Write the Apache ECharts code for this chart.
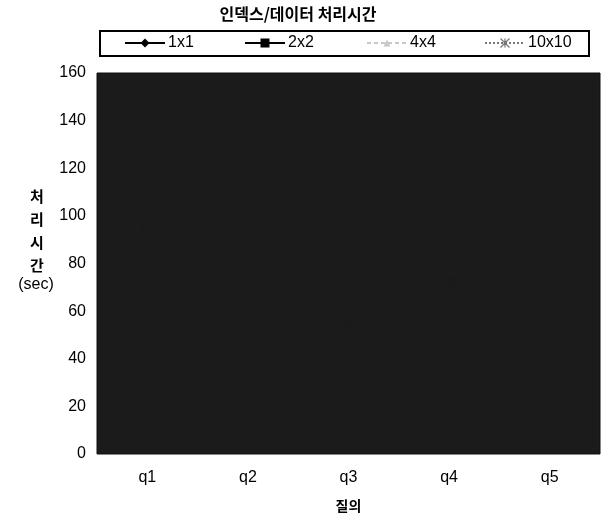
<!DOCTYPE html>
<html><head><meta charset="utf-8">
<script src="https://cdn.jsdelivr.net/npm/echarts@6/dist/echarts.min.js"></script>
<style>html,body{margin:0;padding:0;background:#fff}#c{width:602px;height:518px}</style>
</head><body><div id="c"></div>
<script>
const categories = ['q1', 'q2', 'q3', 'q4', 'q5'];
const s1x1 = [142, 118, 131, 104, 126];
const s2x2 = [96, 81, 88, 72, 90];
const s4x4 = [58, 49, 55, 44, 52];
const s10x10 = [31, 26, 29, 23, 28];
const seriesNames = ['1x1', '2x2', '4x4', '10x10'];
const yTicks = [0, 20, 40, 60, 80, 100, 120, 140, 160];

const FONT = '"Liberation Sans", Arial, sans-serif';
const KFONT = '"Noto Sans CJK KR", sans-serif';
const PLOT_BG = '#1b1b1b';

const legendStyles = [
  {sym: 'diamond', color: '#000', dash: null, size: 9},
  {sym: 'rect', color: '#000', dash: null, size: 9},
  {sym: 'triangle', color: '#c8c8c8', dash: [4, 3], size: 7},
  {sym: 'star', color: '#777', dash: [2, 2], size: 9}
];
const legendLefts = [125, 245, 367, 485];
const dataSets = [s1x1, s2x2, s4x4, s10x10];

function markerShape(st, cx, cy) {
  const s = st.size / 2;
  if (st.sym === 'diamond') return {type: 'polygon', shape: {points: [[cx, cy - s], [cx + s, cy], [cx, cy + s], [cx - s, cy]]}, style: {fill: st.color}};
  if (st.sym === 'rect') return {type: 'rect', shape: {x: cx - s, y: cy - s, width: st.size, height: st.size}, style: {fill: st.color}};
  if (st.sym === 'triangle') return {type: 'polygon', shape: {points: [[cx, cy - s], [cx + s, cy + s], [cx - s, cy + s]]}, style: {fill: st.color}};
  return {type: 'polyline', shape: {points: [[cx - s, cy - s], [cx, cy], [cx + s, cy - s], [cx, cy], [cx - s, cy + s], [cx, cy], [cx + s, cy + s], [cx, cy], [cx, cy - s], [cx, cy + s]]}, style: {stroke: st.color, lineWidth: 1.2, fill: null}};
}

const legendGraphics = [];
legendStyles.forEach((st, i) => {
  const x0 = legendLefts[i], cy = 43;
  legendGraphics.push({type: 'line', shape: {x1: x0, y1: cy, x2: x0 + 40, y2: cy},
    style: {stroke: st.color, lineWidth: 2, lineDash: st.dash}});
  legendGraphics.push(markerShape(st, x0 + 20, cy));
  legendGraphics.push({type: 'text', x: x0 + 43, y: cy, style: {text: seriesNames[i], font: '16px ' + FONT, fill: '#000', verticalAlign: 'middle'}});
});

const chart = echarts.init(document.getElementById('c'), null, {renderer: 'canvas'});
chart.setOption({
  animation: false,
  backgroundColor: '#fff',
  title: {
    text: '인덱스/데이터 처리시간', left: 293, top: 1, textAlign: 'center',
    textStyle: {fontFamily: KFONT, fontSize: 16, fontWeight: 'bold', color: '#000'}
  },
  graphic: [
    {type: 'rect', shape: {x: 100, y: 31, width: 489, height: 25},
     style: {fill: 'none', stroke: '#000', lineWidth: 2}},
    {type: 'text', x: 37, y: 185,
     style: {text: '처\n리\n시\n간', font: 'bold 15px ' + KFONT, fill: '#000', lineHeight: 23, align: 'center'}},
    {type: 'text', x: 36, y: 277,
     style: {text: '(sec)', font: '16px ' + FONT, fill: '#000', align: 'center'}}
  ].concat(legendGraphics),
  grid: {left: 97, right: 2, top: 73, bottom: 61, show: true,
         backgroundColor: PLOT_BG, borderColor: '#111', borderWidth: 1},
  xAxis: {
    type: 'category', data: categories, boundaryGap: true,
    name: '질의', nameLocation: 'middle', nameGap: 45,
    nameTextStyle: {fontFamily: KFONT, fontSize: 14, fontWeight: 'bold', color: '#000'},
    axisLine: {show: false}, axisTick: {show: false},
    axisLabel: {fontFamily: FONT, fontSize: 16, color: '#000', margin: 16}
  },
  yAxis: {
    type: 'value', min: yTicks[0], max: yTicks[yTicks.length - 1], interval: 20,
    axisLine: {show: false}, axisTick: {show: false}, splitLine: {show: false},
    axisLabel: {fontFamily: FONT, fontSize: 16, color: '#000', margin: 11}
  },
  series: seriesNames.map((n, i) => ({
    name: n, type: 'line', data: dataSets[i],
    symbol: legendStyles[i].sym === 'star' ? 'circle' : legendStyles[i].sym, symbolSize: legendStyles[i].size,
    itemStyle: {color: PLOT_BG, borderColor: PLOT_BG}, lineStyle: {color: PLOT_BG, width: 1.5}
  }))
});
</script></body></html>
